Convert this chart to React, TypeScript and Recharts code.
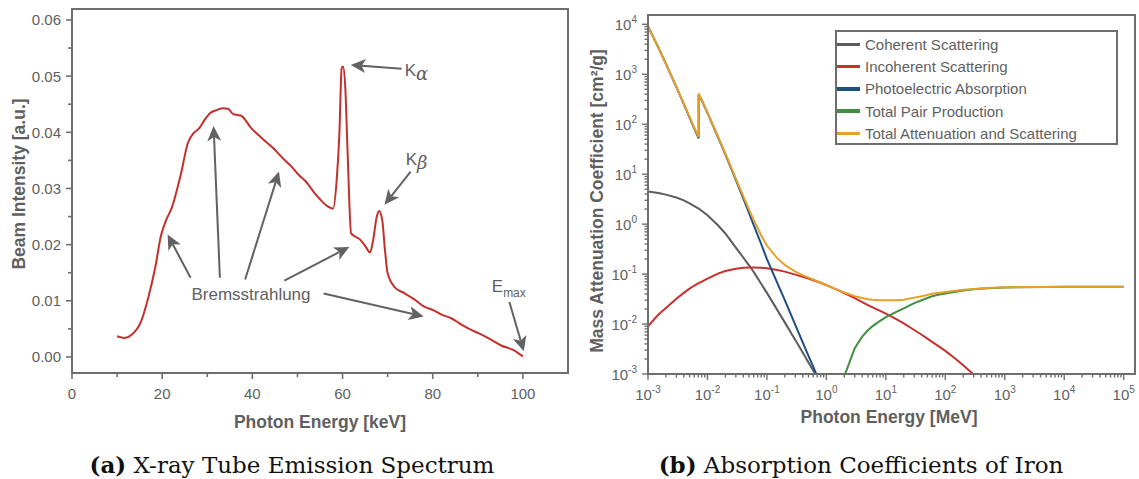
import React from "react";
import {
  LineChart,
  Line,
  XAxis,
  YAxis,
  ReferenceArea,
  ReferenceLine,
  ReferenceDot,
  Legend,
} from "recharts";

const SANS = "'Liberation Sans', Arial, sans-serif";
const TEXT = "#5f5f5f";
const AXIS = "#6e6e6e";
const ARROW = "#626262";

// ---- (a) X-ray tube emission spectrum ----
const energyKeV = [
  10, 11.7, 13.3, 15.3, 16.9, 18.5, 19.7, 20.9, 22.1, 24.1, 25.7, 26.9, 28.2, 29.4, 30.6, 32.2,
  33.4, 34.6, 35.8, 37.4, 39.8, 42.2, 44.6, 47.1, 48.7, 50.3, 51.9, 53.5, 55.1, 56.7, 57.9, 58.7,
  59.3, 59.8, 60.1, 60.6, 61.1, 61.9, 63.9, 65.1, 66.1, 66.8, 67.6, 68.1, 68.8, 69.4, 70.0, 71.6,
  73.6, 76.0, 78.0, 80.0, 82.1, 84.1, 86.1, 88.1, 90.5, 92.9, 95.3, 97.7, 100,
];
const beamIntensity = [
  0.0037, 0.0034, 0.004, 0.0063, 0.0105, 0.0161, 0.0215, 0.0244, 0.0265, 0.0324, 0.0381, 0.0398,
  0.0407, 0.0422, 0.0434, 0.044, 0.0443, 0.0442, 0.0432, 0.043, 0.0407, 0.0389, 0.0372, 0.0351,
  0.0339, 0.0324, 0.0312, 0.0295, 0.028, 0.0268, 0.0264, 0.0315, 0.0398, 0.0514, 0.0517, 0.0481,
  0.0369, 0.022, 0.0209, 0.0197, 0.0186, 0.0209, 0.025, 0.026, 0.0244, 0.0191, 0.0149, 0.0124,
  0.0114, 0.0102, 0.009, 0.0084, 0.0075, 0.0069, 0.0059, 0.005, 0.0041, 0.0031, 0.002, 0.0013,
  0.0001,
];
const spectrum = energyKeV.map((e, i) => ({ e, v: beamIntensity[i] }));

const keVMajor = [0, 20, 40, 60, 80, 100];
const keVMinor = [10, 30, 50, 70, 90];
const intensityMajor = [0, 0.01, 0.02, 0.03, 0.04, 0.05, 0.06];
const intensityMinor = [0.005, 0.015, 0.025, 0.035, 0.045, 0.055];
const keVDomain = [0, 110];
const intensityDomain = [-0.00285, 0.06195];

// arrows: tail -> head, in data units
const arrows = [
  { x1: 26.3, y1: 0.0141, x2: 21.2, y2: 0.0218 },
  { x1: 32.8, y1: 0.0141, x2: 31.4, y2: 0.0411 },
  { x1: 38.4, y1: 0.0138, x2: 45.9, y2: 0.033 },
  { x1: 47.1, y1: 0.0136, x2: 61.5, y2: 0.0196 },
  { x1: 55.8, y1: 0.0113, x2: 78.0, y2: 0.0072 },
  { x1: 73.1, y1: 0.0513, x2: 61.8, y2: 0.052 },
  { x1: 75.1, y1: 0.033, x2: 69.3, y2: 0.0271 },
  { x1: 97.0, y1: 0.0098, x2: 100.2, y2: 0.001 },
];

// ---- (b) Absorption coefficients of iron ----
const energyMeV = [
  1e-3, 1.5e-3, 2e-3, 3e-3, 4e-3, 5e-3, 6e-3, 7.112e-3, 7.112e-3, 8e-3, 1e-2, 1.5e-2, 2e-2, 3e-2,
  4e-2, 5e-2, 6e-2, 8e-2, 0.1, 0.15, 0.2, 0.3, 0.4, 0.5, 0.6, 0.8, 1, 1.25, 1.5, 2, 3, 4, 5, 6, 8,
  10, 15, 20, 30, 40, 50, 60, 80, 100, 150, 200, 300, 500, 1000, 2000, 5000, 1e4, 3e4, 1e5,
];
const coherent = [
  4.5, 4.2, 3.9, 3.4, 3.0, 2.6, 2.3, 2.05, 2.05, 1.85, 1.5, 0.95, 0.65, 0.34, 0.215, 0.15, 0.11,
  0.064, 0.042, 0.019, 0.0108, 0.0048, 0.0027, 0.0017, 0.00118, 0.00066, 0.00042,
  null, null, null, null, null, null, null, null, null, null, null, null, null, null, null, null,
  null, null, null, null, null, null, null, null, null, null, null,
];
const incoherent = [
  0.009, 0.0155, 0.021, 0.032, 0.042, 0.051, 0.059, 0.066, 0.066, 0.071, 0.081, 0.102, 0.115,
  0.128, 0.134, 0.136, 0.136, 0.134, 0.131, 0.121, 0.112, 0.0975, 0.088, 0.081, 0.0755, 0.067,
  0.06, 0.0535, 0.0488, 0.0418, 0.0329, 0.0275, 0.024, 0.0215, 0.0183, 0.0162, 0.0125, 0.0103,
  0.0076, 0.0061, 0.0051, 0.0044, 0.0035, 0.0029, 0.002, 0.0015, 0.00098, 0.0006, 0.0003,
  null, null, null, null, null,
];
const photoelectric = [
  9080, 3390, 1620, 552, 252, 136, 81.5, 52.3, 404, 302, 169, 55.5, 24.9, 7.71, 3.28, 1.67, 0.96,
  0.4, 0.2, 0.066, 0.03, 0.0096, 0.0043, 0.0023, 0.0014, 0.00062, 0.00033,
  null, null, null, null, null, null, null, null, null, null, null, null, null, null, null, null,
  null, null, null, null, null, null, null, null, null, null, null,
];
const pairProduction = [
  null, null, null, null, null, null, null, null, null, null, null, null, null, null, null, null,
  null, null, null, null, null, null, null, null, null, null, null, null,
  0.00015, 0.0009, 0.0033, 0.0056, 0.0075, 0.0091, 0.0116, 0.0137, 0.0176, 0.0205, 0.0262, 0.03,
  0.0332, 0.036, 0.039, 0.041, 0.0445, 0.047, 0.0495, 0.052, 0.054, 0.0548, 0.0553, 0.0556,
  0.0558, 0.056,
];
const totalAttenuation = [
  9085, 3399, 1626, 557.6, 256.7, 139.8, 84.8, 55.3, 407.6, 305.6, 170.6, 57.1, 25.7, 8.18, 3.63,
  1.96, 1.21, 0.6, 0.373, 0.206, 0.153, 0.112, 0.095, 0.085, 0.078, 0.068, 0.0604, 0.0537, 0.049,
  0.0427, 0.0362, 0.0331, 0.0315, 0.0306, 0.0299, 0.0299, 0.0301, 0.0308, 0.0338, 0.0361, 0.0383,
  0.0404, 0.0425, 0.0439, 0.0465, 0.0485, 0.0505, 0.0526, 0.0543, 0.055, 0.0554, 0.0557, 0.0559,
  0.0561,
];
const iron = energyMeV.map((e, i) => ({
  e,
  coh: coherent[i],
  incoh: incoherent[i],
  photo: photoelectric[i],
  pair: pairProduction[i],
  total: totalAttenuation[i],
}));

const series = [
  { key: "coh", name: "Coherent Scattering", color: "#5c5c5c" },
  { key: "incoh", name: "Incoherent Scattering", color: "#c8302e" },
  { key: "photo", name: "Photoelectric Absorption", color: "#1f4f7e" },
  { key: "pair", name: "Total Pair Production", color: "#3f8f3f" },
  { key: "total", name: "Total Attenuation and Scattering", color: "#e6a02a" },
];

const xDecades = [-3, -2, -1, 0, 1, 2, 3, 4, 5];
const yDecades = [-3, -2, -1, 0, 1, 2, 3, 4];
const mantissas = [2, 3, 4, 5, 6, 7, 8, 9];
const meVDomain = [1e-3, 1.55e5];
const muDomain = [1e-3, 15350];

const logTicks = (decades: number[], max: number) => {
  const out: number[] = [];
  decades.forEach((d) => {
    out.push(Number(`1e${d}`));
    mantissas.forEach((m) => {
      const v = Number(`${m}e${d}`);
      if (v <= max) out.push(v);
    });
  });
  return out;
};
const isDecade = (v: number) => Math.abs(Math.log10(v) - Math.round(Math.log10(v))) < 1e-9;

// ---- tick renderers ----
const linTickX = (majors: number[]) => (p: any) => {
  const v = p.payload.value;
  const major = majors.includes(v);
  return (
    <g>
      <line x1={p.x} x2={p.x} y1={p.y} y2={p.y + (major ? 6 : 4)} stroke={AXIS} strokeWidth={1.6} />
      {major && (
        <text x={p.x} y={p.y + 26} textAnchor="middle" fontSize={15} fill={TEXT} fontFamily={SANS}>
          {v}
        </text>
      )}
    </g>
  );
};

const linTickY = (majors: number[]) => (p: any) => {
  const v = p.payload.value;
  const major = majors.includes(v);
  return (
    <g>
      <line x1={p.x} x2={p.x - (major ? 6 : 4)} y1={p.y} y2={p.y} stroke={AXIS} strokeWidth={1.6} />
      {major && (
        <text x={p.x - 11} y={p.y + 5.5} textAnchor="end" fontSize={15} fill={TEXT} fontFamily={SANS}>
          {v.toFixed(2)}
        </text>
      )}
    </g>
  );
};

const logTickX = (p: any) => {
  const v = p.payload.value;
  const major = isDecade(v);
  return (
    <g>
      <line x1={p.x} x2={p.x} y1={p.y} y2={p.y + (major ? 6 : 3.5)} stroke={AXIS} strokeWidth={1.4} />
      {major && (
        <text x={p.x} y={p.y + 26} textAnchor="middle" fontSize={15} fill={TEXT} fontFamily={SANS}>
          10
          <tspan fontSize={10} dy={-7}>
            {Math.round(Math.log10(v))}
          </tspan>
        </text>
      )}
    </g>
  );
};

const logTickY = (p: any) => {
  const v = p.payload.value;
  const major = isDecade(v);
  return (
    <g>
      <line x1={p.x} x2={p.x - (major ? 6 : 3.5)} y1={p.y} y2={p.y} stroke={AXIS} strokeWidth={1.4} />
      {major && (
        <text x={p.x - 11} y={p.y + 6} textAnchor="end" fontSize={15} fill={TEXT} fontFamily={SANS}>
          10
          <tspan fontSize={10} dy={-7}>
            {Math.round(Math.log10(v))}
          </tspan>
        </text>
      )}
    </g>
  );
};

const ArrowShape = (p: any) => {
  const { x1, y1, x2, y2 } = p;
  const dx = x2 - x1;
  const dy = y2 - y1;
  const len = Math.hypot(dx, dy) || 1;
  const ux = dx / len;
  const uy = dy / len;
  const nx = -uy;
  const ny = ux;
  const L = 15;
  const W = 7;
  const bx = x2 - ux * L;
  const by = y2 - uy * L;
  const notchX = x2 - ux * (L - 4);
  const notchY = y2 - uy * (L - 4);
  return (
    <g>
      <line x1={x1} y1={y1} x2={notchX} y2={notchY} stroke={ARROW} strokeWidth={2} />
      <polygon
        points={`${x2},${y2} ${bx + nx * W},${by + ny * W} ${notchX},${notchY} ${bx - nx * W},${by - ny * W}`}
        fill={ARROW}
      />
    </g>
  );
};

const axisTitle = (text: string, x: number, y: number, rotate = false) => () =>
  (
    <text
      x={x}
      y={y}
      textAnchor="middle"
      dominantBaseline="central"
      transform={rotate ? `rotate(-90 ${x} ${y})` : undefined}
      fontSize={17.5}
      fontWeight="bold"
      fill={TEXT}
      fontFamily={SANS}
    >
      {text}
    </text>
  );

function SpectrumChart() {
  return (
    <LineChart width={580} height={440} data={spectrum} margin={{ top: 9, right: 12, left: 0, bottom: 0 }}>
      <XAxis
        dataKey="e"
        type="number"
        domain={keVDomain}
        ticks={[...keVMajor, ...keVMinor]}
        interval={0}
        tickSize={0}
        tickMargin={0}
        tickLine={false}
        axisLine={{ stroke: AXIS, strokeWidth: 2 }}
        height={67}
        tick={linTickX(keVMajor)}
        label={{ content: axisTitle("Photon Energy [keV]", 320, 422) }}
      />
      <YAxis
        type="number"
        domain={intensityDomain}
        allowDataOverflow
        ticks={[...intensityMajor, ...intensityMinor]}
        interval={0}
        tickSize={0}
        tickMargin={0}
        tickLine={false}
        axisLine={{ stroke: AXIS, strokeWidth: 2 }}
        width={72}
        tick={linTickY(intensityMajor)}
        label={{ content: axisTitle("Beam Intensity [a.u.]", 19, 184, true) }}
      />
      <ReferenceArea
        x1={keVDomain[0]}
        x2={keVDomain[1]}
        y1={intensityDomain[0]}
        y2={intensityDomain[1]}
        fill="none"
        stroke={AXIS}
        strokeWidth={2}
        ifOverflow="visible"
      />
      <Line
        dataKey="v"
        type="monotone"
        stroke="#c4302b"
        strokeWidth={2}
        dot={false}
        isAnimationActive={false}
      />
      {arrows.map((a, i) => (
        <ReferenceLine
          key={i}
          segment={[
            { x: a.x1, y: a.y1 },
            { x: a.x2, y: a.y2 },
          ]}
          ifOverflow="visible"
          shape={ArrowShape}
        />
      ))}
      <ReferenceDot
        x={39.7}
        y={0.0113}
        ifOverflow="visible"
        shape={(p: any) => (
          <text x={p.cx} y={p.cy} dy="0.36em" textAnchor="middle" fontSize={17} fill={TEXT} fontFamily={SANS}>
            Bremsstrahlung
          </text>
        )}
      />
      <ReferenceDot
        x={73.8}
        y={0.0512}
        ifOverflow="visible"
        shape={(p: any) => (
          <text x={p.cx} y={p.cy} dy="0.36em" fontSize={17} fill={TEXT} fontFamily={SANS}>
            K
            <tspan fontStyle="italic" fontFamily="'DejaVu Serif', serif" fontSize={18} dy={4}>
              α
            </tspan>
          </text>
        )}
      />
      <ReferenceDot
        x={74.0}
        y={0.0353}
        ifOverflow="visible"
        shape={(p: any) => (
          <text x={p.cx} y={p.cy} dy="0.36em" fontSize={17} fill={TEXT} fontFamily={SANS}>
            K
            <tspan fontStyle="italic" fontFamily="'DejaVu Serif', serif" fontSize={18} dy={4}>
              β
            </tspan>
          </text>
        )}
      />
      <ReferenceDot
        x={93.1}
        y={0.0127}
        ifOverflow="visible"
        shape={(p: any) => (
          <text x={p.cx} y={p.cy} dy="0.36em" fontSize={17} fill={TEXT} fontFamily={SANS}>
            E
            <tspan fontSize={12} dy={5}>
              max
            </tspan>
          </text>
        )}
      />
    </LineChart>
  );
}

const IronLegend = () => (
  <div
    style={{
      width: 283,
      height: 115,
      boxSizing: "border-box",
      border: `2px solid ${AXIS}`,
      background: "#fff",
      position: "relative",
      fontFamily: SANS,
      fontSize: 15,
      color: TEXT,
    }}
  >
    {series.map((s, i) => (
      <div
        key={s.key}
        style={{
          position: "absolute",
          left: 0,
          top: 1.5 + 22.2 * i,
          height: 22,
          display: "flex",
          alignItems: "center",
          whiteSpace: "nowrap",
        }}
      >
        <div style={{ width: 23, height: 3.5, background: s.color, marginRight: 5 }} />
        <span>{s.name}</span>
      </div>
    ))}
  </div>
);

function IronChart() {
  return (
    <LineChart width={569} height={440} data={iron} margin={{ top: 15, right: 4, left: 0, bottom: 0 }}>
      <XAxis
        dataKey="e"
        type="number"
        scale="log"
        domain={meVDomain}
        allowDataOverflow
        ticks={logTicks(xDecades, meVDomain[1])}
        interval={0}
        tickSize={0}
        tickMargin={0}
        tickLine={false}
        axisLine={{ stroke: AXIS, strokeWidth: 2 }}
        height={66}
        tick={logTickX}
        label={{ content: axisTitle("Photon Energy [MeV]", 319, 417) }}
      />
      <YAxis
        type="number"
        scale="log"
        domain={muDomain}
        allowDataOverflow
        ticks={logTicks(yDecades, muDomain[1])}
        interval={0}
        tickSize={0}
        tickMargin={0}
        tickLine={false}
        axisLine={{ stroke: AXIS, strokeWidth: 2 }}
        width={78}
        tick={logTickY}
        label={{ content: axisTitle("Mass Attenuation Coefficient [cm²/g]", 27, 201, true) }}
      />
      <ReferenceArea
        x1={meVDomain[0]}
        x2={meVDomain[1]}
        y1={muDomain[0]}
        y2={muDomain[1]}
        fill="none"
        stroke={AXIS}
        strokeWidth={2}
        ifOverflow="visible"
      />
      {series.map((s) => (
        <Line
          key={s.key}
          dataKey={s.key}
          name={s.name}
          type="linear"
          stroke={s.color}
          strokeWidth={2}
          dot={false}
          connectNulls={false}
          isAnimationActive={false}
        />
      ))}
      <Legend
        layout="vertical"
        align="center"
        verticalAlign="middle"
        wrapperStyle={{ left: 265, top: 30, width: 283, height: 115 }}
        content={() => <IronLegend />}
      />
    </LineChart>
  );
}

const captionStyle: React.CSSProperties = {
  position: "absolute",
  top: 451,
  fontFamily: "'DejaVu Serif', serif",
  fontSize: 23,
  lineHeight: "28px",
  color: "#111",
  textAlign: "center",
  whiteSpace: "nowrap",
};

export default function App() {
  return (
    <div style={{ position: "absolute", left: 0, top: 0, width: 1139, height: 479, background: "#fff" }}>
      <div style={{ position: "absolute", left: 0, top: 0 }}>
        <SpectrumChart />
      </div>
      <div style={{ position: "absolute", left: 570, top: 0 }}>
        <IronChart />
      </div>
      <div style={{ ...captionStyle, left: 0, width: 584 }}>
        <b>(a)</b> X-ray Tube Emission Spectrum
      </div>
      <div style={{ ...captionStyle, left: 584, width: 554 }}>
        <b>(b)</b> Absorption Coefficients of Iron
      </div>
    </div>
  );
}
